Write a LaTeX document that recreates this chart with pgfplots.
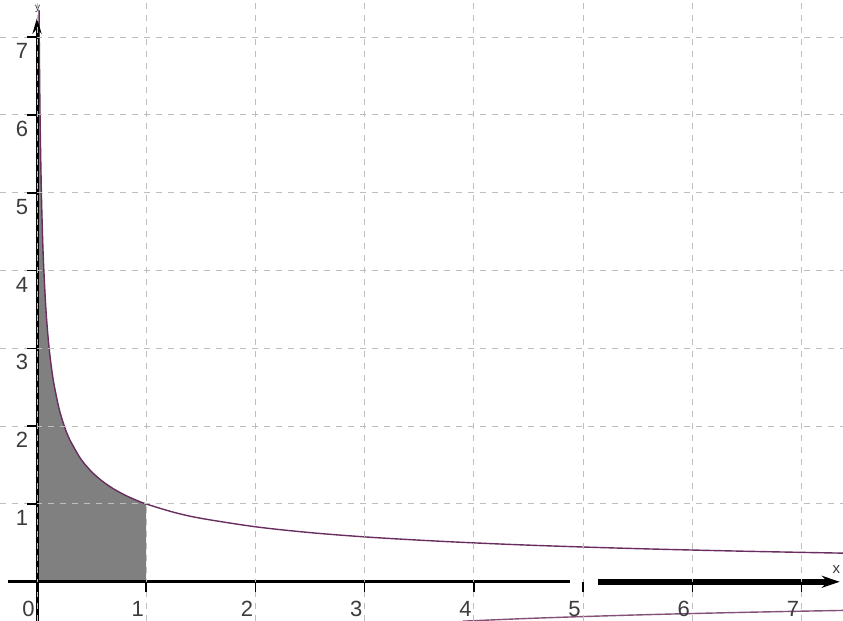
\documentclass[border=0pt]{standalone}
\usepackage{pgfplots}
\pgfplotsset{compat=1.18}
\usepackage{fontspec}
\setmainfont{Liberation Sans}
\usetikzlibrary{arrows.meta}
\definecolor{curvepurple}{RGB}{105,45,95}
\definecolor{lowpurple}{RGB}{130,80,120}
\definecolor{fillgray}{RGB}{128,128,128}
\definecolor{gridgray}{RGB}{190,190,190}
\definecolor{labgray}{RGB}{60,60,60}
\begin{document}
\begin{tikzpicture}
\begin{axis}[
  scale only axis,
  width=843pt, height=621pt,
  xmin=-0.339, xmax=7.38,
  ymin=-0.504, ymax=7.478,
  axis lines=middle,
  axis line style={draw=none},
  axis on top,
  clip=true,
  hide obscured x ticks=false,
  hide obscured y ticks=false,
  xtick={0,1,2,3,4,5,6,7},
  ytick={1,2,3,4,5,6,7},
  xtick align=outside, ytick align=outside,
  major tick length=10pt,
  tick style={black, line width=1.5pt},
  grid=major,
  grid style={gridgray, line width=1pt, dash pattern=on 6pt off 6pt},
  /pgf/number format/assume math mode=true,
  x tick label style={font=\fontsize{22}{22}\selectfont, text=labgray, anchor=center, xshift=-8.5pt, yshift=-17pt},
  y tick label style={font=\fontsize{22}{22}\selectfont, text=labgray, anchor=center, xshift=-5pt, yshift=-14pt},
]
% shaded area under 1/sqrt(x) on (0,1]
\addplot[draw=none, fill=fillgray] coordinates {
 (0.0185,0) (0.0185,7.352) (0.02,7.071) (0.025,6.325) (0.03,5.774) (0.04,5.000) (0.05,4.472)
 (0.06,4.082) (0.08,3.536) (0.1,3.162) (0.12,2.887) (0.15,2.582) (0.2,2.236)
 (0.25,2.000) (0.3,1.826) (0.4,1.581) (0.5,1.414) (0.6,1.291) (0.7,1.195)
 (0.8,1.118) (0.9,1.054) (1.0,1.000) (1.0,0)
} \closedcycle;
% upper curve y = 1/sqrt(x)
\addplot[curvepurple, line width=1.4pt, smooth] coordinates {
 (0.0185,7.352) (0.02,7.071) (0.025,6.325) (0.03,5.774) (0.04,5.000) (0.05,4.472)
 (0.06,4.082) (0.08,3.536) (0.1,3.162) (0.12,2.887) (0.15,2.582) (0.2,2.236)
 (0.25,2.000) (0.3,1.826) (0.4,1.581) (0.5,1.414) (0.6,1.291) (0.7,1.195)
 (0.8,1.118) (0.9,1.054) (1.0,1.000) (1.25,0.894) (1.5,0.816) (2,0.707)
 (2.5,0.632) (3,0.577) (3.5,0.535) (4,0.500) (4.5,0.471) (5,0.447)
 (5.5,0.426) (6,0.408) (6.5,0.392) (7,0.378) (7.5,0.365)
};
% lower curve y = -1/sqrt(x)
\addplot[lowpurple, line width=1.4pt, smooth] coordinates {
 (3.9,-0.506) (4,-0.500) (4.5,-0.471) (5,-0.447) (5.5,-0.426) (6,-0.408)
 (6.5,-0.392) (7,-0.378) (7.5,-0.365)
};
% y axis
\addplot[black, line width=3pt, -{Stealth[length=16pt,width=9pt]}] coordinates {(0,-0.6) (0,7.25)};
% x axis (thin part)
\addplot[black, line width=3pt] coordinates {(-0.27,0) (4.88,0)};
% x axis (thick arrow part)
\addplot[black, line width=6pt, -{Stealth[length=18pt,width=12pt]}] coordinates {(5.14,0) (7.35,0)};
\node[text=labgray, font=\fontsize{15}{15}\selectfont] at (axis cs:7.32,0.16) {x};
\node[text=labgray, font=\fontsize{10}{10}\selectfont] at (axis cs:0.005,7.36) {y};
\end{axis}
\pgfresetboundingbox
\useasboundingbox (current axis.south west) rectangle (current axis.north east);
\end{tikzpicture}
\end{document}
